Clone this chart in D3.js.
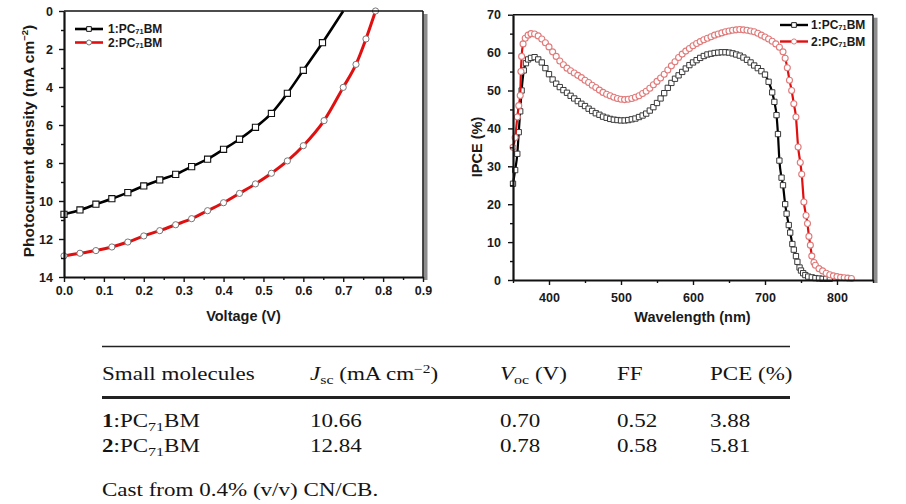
<!DOCTYPE html>
<html><head><meta charset="utf-8">
<script src="https://cdn.jsdelivr.net/npm/d3@7/dist/d3.min.js"></script>
<style>body{margin:0;background:#fff;} svg{display:block;}</style>
</head><body>
<svg id="c" width="906" height="504"></svg>
<script>
// ---------------- DATA ----------------
const seriesNames = ["1:PC71BM", "2:PC71BM"];

// J-V curves (left panel)
const jvV1 = [0,0.04,0.08,0.12,0.16,0.20,0.24,0.28,0.32,0.36,0.40,0.44,0.48,0.52,0.56,0.60,0.648,0.70];
const jvJ1 = [10.70,10.47,10.17,9.88,9.56,9.21,8.89,8.60,8.19,7.80,7.28,6.75,6.12,5.39,4.33,3.12,1.67,0.0];
const jvV2 = [0,0.04,0.08,0.12,0.16,0.20,0.24,0.28,0.32,0.36,0.40,0.44,0.48,0.52,0.56,0.60,0.652,0.70,0.732,0.757,0.781];
const jvJ2 = [12.89,12.75,12.61,12.42,12.16,11.84,11.56,11.25,10.93,10.51,10.09,9.60,9.10,8.54,7.89,7.09,5.77,4.02,2.81,1.47,0.0];

// IPCE spectra (right panel)
const ipceWl1 = [350,353,356,358,360,362,365,368,371,375,380,385,390,395,400,405,410,415,420,425,430,435,440,445,450,455,460,465,470,475,480,485,490,495,500,505,510,515,520,525,530,535,540,545,550,555,560,565,570,575,580,585,590,595,600,605,610,615,620,625,630,635,640,645,650,655,660,665,670,675,680,685,690,695,700,705,710,713,716,718,720,723,725,728,730,733,735,738,740,743,745,748,750,753,756,760,765,770,775,780,785,790];
const ipce1 = [25.4,29,33.3,39,44.5,50,55.3,57.2,58.2,58.6,58.8,58.2,57.4,55.9,54.3,52.9,51.8,50.9,50.1,49.4,48.6,47.9,47.2,46.5,45.9,45.2,44.6,44.0,43.6,43.1,42.8,42.5,42.3,42.2,42.1,42.1,42.2,42.4,42.6,43.0,43.4,43.9,44.7,45.6,46.7,47.9,49.3,50.7,52.0,53.1,54.0,54.9,55.8,56.7,57.4,58.0,58.6,59.1,59.5,59.7,59.9,60.0,60.1,60.1,60.0,59.8,59.5,59.2,58.7,58.1,57.4,56.6,55.9,55.1,54.2,52.3,49.5,47,43.5,38.5,31.5,27,25,20,17.5,14.5,12.5,9.5,8,6.3,4.8,3.3,2.5,1.8,1.3,0.9,0.7,0.5,0.4,0.3,0.3,0.3];
const ipceWl2 = [350,353,356,358,360,361,362,364,367,371,375,380,385,390,395,400,405,410,415,420,425,430,435,440,445,450,455,460,465,470,475,480,485,490,495,500,505,510,515,520,525,530,535,540,545,550,555,560,565,570,575,580,585,590,595,600,605,610,615,620,625,630,635,640,645,650,655,660,665,670,675,680,685,690,695,700,705,710,715,720,725,728,731,734,737,740,743,746,749,751,754,757,759,761,763,765,768,770,775,780,785,790,795,800,805,810,815,820];
const ipce2 = [35,37.6,43,46,48.7,55,59,62.3,63.8,64.6,65.0,64.9,64.4,63.6,62.6,61.5,60.2,59.0,57.8,56.8,55.9,55.2,54.6,54.0,53.4,52.7,52.1,51.4,50.8,50.1,49.5,49.0,48.6,48.2,47.9,47.7,47.6,47.7,47.9,48.2,48.6,49.2,49.8,50.6,51.5,52.4,53.3,54.3,55.4,56.5,57.6,58.7,59.6,60.4,61.1,61.8,62.4,62.9,63.4,63.8,64.2,64.6,64.9,65.2,65.5,65.7,65.9,66.0,66.1,66.0,65.9,65.7,65.5,65.1,64.6,64.1,63.6,63.0,62.3,61.4,60.2,58.5,56,52.7,50,46.5,43,35.1,31,27.9,20.6,17,14.9,11.5,9.2,6.3,4.6,3.9,3.0,2.4,1.8,1.4,1.1,0.9,0.7,0.6,0.5,0.4];

// axis ticks
const jvVTicks = [0,0.1,0.2,0.3,0.4,0.5,0.6,0.7,0.8,0.9];
const jvVMinor = [0.05,0.15,0.25,0.35,0.45,0.55,0.65,0.75,0.85];
const jvJTicks = [0,2,4,6,8,10,12,14];
const jvJMinor = [1,3,5,7,9,11,13];
const wlTicks = [400,500,600,700,800];
const wlMinor = [350,450,550,650,750,850];
const ipceTicks = [0,10,20,30,40,50,60,70];
const ipceMinor = [5,15,25,35,45,55,65];

// table
const tblNames = ["1:PC71BM", "2:PC71BM"];
const tblJsc = [10.66, 12.84];
const tblVoc = [0.70, 0.78];
const tblFF = [0.52, 0.58];
const tblPCE = [3.88, 5.81];
const tblNote = "Cast from 0.4% (v/v) CN/CB.";

// ---------------- DRAW ----------------
const svg = d3.select("#c");
const SANS = "'Liberation Sans', Arial, Helvetica, sans-serif";
const SERIF = "'Liberation Serif', 'Times New Roman', serif";
const RED = "#e01010";

function frame(g, x, y, o) {
  const [x0, x1] = x.range();
  const yr = y.range(); const top = Math.min(...yr), bot = Math.max(...yr);
  g.append("rect").attr("x", x1 + 0.5).attr("y", top + 3).attr("width", 4).attr("height", bot - top)
    .attr("fill", "#8e8e8e");
  g.append("line").attr("x1", x0).attr("x2", x1).attr("y1", top).attr("y2", top)
    .attr("stroke", "#111").attr("stroke-width", 1.5);
  g.append("line").attr("x1", x1).attr("x2", x1).attr("y1", top).attr("y2", bot)
    .attr("stroke", "#111").attr("stroke-width", 1.5);
  const style = s => {
    s.select(".domain").attr("stroke", "#111").attr("stroke-width", 2.2);
    s.selectAll(".tick line").attr("stroke", "#111").attr("stroke-width", 1.4);
    s.selectAll(".tick text").attr("font-family", SANS).attr("font-weight", "bold")
      .attr("font-size", 12.5).attr("fill", "#1a1a1a");
  };
  g.append("g").attr("transform", `translate(0,${bot})`)
    .call(d3.axisBottom(x).tickValues(o.xMinor).tickSize(3).tickFormat(""))
    .call(s => { s.select(".domain").remove(); s.selectAll("line").attr("stroke", "#111").attr("stroke-width", 1.4); });
  g.append("g").attr("transform", `translate(${x0},0)`)
    .call(d3.axisLeft(y).tickValues(o.yMinor).tickSize(3).tickFormat(""))
    .call(s => { s.select(".domain").remove(); s.selectAll("line").attr("stroke", "#111").attr("stroke-width", 1.4); });
  g.append("g").attr("transform", `translate(0,${bot})`)
    .call(d3.axisBottom(x).tickValues(o.xMajor).tickSize(5).tickSizeOuter(0).tickPadding(o.xPad).tickFormat(o.xFmt))
    .call(style);
  g.append("g").attr("transform", `translate(${x0},0)`)
    .call(d3.axisLeft(y).tickValues(o.yMajor).tickSize(5).tickSizeOuter(0).tickPadding(o.yPad).tickFormat(o.yFmt))
    .call(style);
}

function legendLabel(g, x, y, name, fs) {
  const m = name.match(/^(\d:PC)(\d+)(BM)$/);
  const t = g.append("text").attr("x", x).attr("y", y).attr("font-family", SANS)
    .attr("font-weight", "bold").attr("font-size", fs).attr("fill", "#1a1a1a");
  t.append("tspan").text(m[1]);
  t.append("tspan").attr("font-size", fs * 0.62).attr("dy", 1).text(m[2]);
  t.append("tspan").attr("dy", -1).text(m[3]);
}

// ===== Left panel: J-V =====
const xL = d3.scaleLinear().domain([0, 0.9]).range([64, 423]);
const yL = d3.scaleLinear().domain([0, 14]).range([11, 277]);
const gL = svg.append("g");

const jv1 = jvV1.map((v, i) => [v, jvJ1[i]]);
const jv2 = jvV2.map((v, i) => [v, jvJ2[i]]);
const lineL = d3.line().x(d => xL(d[0])).y(d => yL(d[1])).curve(d3.curveMonotoneX);

gL.append("path").datum(jv1).attr("d", lineL).attr("fill", "none").attr("stroke", "#000").attr("stroke-width", 2.6);
gL.append("g").selectAll("path").data(jv1.slice(0, -1)).join("path")
  .attr("d", d3.symbol(d3.symbolSquare, 38)())
  .attr("transform", d => `translate(${xL(d[0])},${yL(d[1])})`)
  .attr("fill", "#fff").attr("stroke", "#111").attr("stroke-width", 1.1);
gL.append("path").datum(jv2).attr("d", lineL).attr("fill", "none").attr("stroke", RED).attr("stroke-width", 3);
gL.append("g").selectAll("circle").data(jv2).join("circle")
  .attr("cx", d => xL(d[0])).attr("cy", d => yL(d[1])).attr("r", 3.1)
  .attr("fill", "#fff").attr("stroke", "#777").attr("stroke-width", 1);

frame(gL, xL, yL, {xMinor: jvVMinor, yMinor: jvJMinor, xMajor: jvVTicks, yMajor: jvJTicks,
  xFmt: d3.format(".1f"), yFmt: d3.format("d"), xPad: 4, yPad: 6});

// axis titles
gL.append("text").attr("x", 243.5).attr("y", 321).attr("text-anchor", "middle")
  .attr("font-family", SANS).attr("font-weight", "bold").attr("font-size", 14.5).attr("fill", "#1a1a1a")
  .text("Voltage (V)");
const ytL = gL.append("text").attr("transform", "translate(34,141) rotate(-90)").attr("text-anchor", "middle")
  .attr("font-family", SANS).attr("font-weight", "bold").attr("font-size", 15.5).attr("fill", "#1a1a1a");
ytL.append("tspan").text("Photocurrent density (mA cm");
ytL.append("tspan").attr("font-size", 9.5).attr("dy", -6).text("−2");
ytL.append("tspan").attr("dy", 6).text(")");

// legend
[0, 1].forEach(i => {
  const ly = 29 + i * 13.5;
  gL.append("line").attr("x1", 75).attr("x2", 103).attr("y1", ly).attr("y2", ly)
    .attr("stroke", i ? RED : "#000").attr("stroke-width", 2.6);
  if (i === 0) gL.append("path").attr("d", d3.symbol(d3.symbolSquare, 22)()).attr("transform", `translate(89,${ly})`)
    .attr("fill", "#fff").attr("stroke", "#111").attr("stroke-width", 1);
  else gL.append("circle").attr("cx", 89).attr("cy", ly).attr("r", 2.5).attr("fill", "#fff").attr("stroke", "#777");
  legendLabel(gL, 108, ly + 4.3, seriesNames[i], 12);
});

// ===== Right panel: IPCE =====
const xR = d3.scaleLinear().domain([350, 850]).range([513, 873]);
const yR = d3.scaleLinear().domain([0, 70]).range([280, 14.7]);
const gR = svg.append("g");
const ip1 = ipceWl1.map((w, i) => [w, ipce1[i]]);
const ip2 = ipceWl2.map((w, i) => [w, ipce2[i]]);
const lineR = d3.line().x(d => xR(d[0])).y(d => yR(d[1])).curve(d3.curveMonotoneX);

gR.append("path").datum(ip1).attr("d", lineR).attr("fill", "none").attr("stroke", "#000").attr("stroke-width", 2.2);
gR.append("g").selectAll("path").data(ip1).join("path")
  .attr("d", d3.symbol(d3.symbolSquare, 28)())
  .attr("transform", d => `translate(${xR(d[0])},${yR(d[1])})`)
  .attr("fill", "#fff").attr("stroke", "#3a3a3a").attr("stroke-width", 1);
gR.append("path").datum(ip2).attr("d", lineR).attr("fill", "none").attr("stroke", RED).attr("stroke-width", 2.2);
gR.append("g").selectAll("circle").data(ip2).join("circle")
  .attr("cx", d => xR(d[0])).attr("cy", d => yR(d[1])).attr("r", 3)
  .attr("fill", "#fff").attr("stroke", "#e07a7a").attr("stroke-width", 1.1);

frame(gR, xR, yR, {xMinor: wlMinor, yMinor: ipceMinor, xMajor: wlTicks, yMajor: ipceTicks,
  xFmt: d3.format("d"), yFmt: d3.format("d"), xPad: 8, yPad: 7});

gR.append("text").attr("x", 692.5).attr("y", 322).attr("text-anchor", "middle")
  .attr("font-family", SANS).attr("font-weight", "bold").attr("font-size", 14.5).attr("fill", "#1a1a1a")
  .text("Wavelength (nm)");
gR.append("text").attr("transform", "translate(482,147) rotate(-90)").attr("text-anchor", "middle")
  .attr("font-family", SANS).attr("font-weight", "bold").attr("font-size", 14.5).attr("fill", "#1a1a1a")
  .text("IPCE (%)");

[0, 1].forEach(i => {
  const ly = 25 + i * 16.5;
  gR.append("line").attr("x1", 780).attr("x2", 808).attr("y1", ly).attr("y2", ly)
    .attr("stroke", i ? RED : "#000").attr("stroke-width", 2.4);
  if (i === 0) gR.append("path").attr("d", d3.symbol(d3.symbolSquare, 22)()).attr("transform", `translate(794,${ly})`)
    .attr("fill", "#fff").attr("stroke", "#222").attr("stroke-width", 1);
  else gR.append("circle").attr("cx", 794).attr("cy", ly).attr("r", 2.6).attr("fill", "#fff").attr("stroke", "#e07a7a");
  legendLabel(gR, 811, ly + 4.3, seriesNames[i], 12);
});

// ===== Table =====
const gT = svg.append("g");
const SX = 1.28, TFS = 18, TCOL = "#141414";
const colX = [102, 310, 500, 617, 710];
function ttext(x, y) {
  return gT.append("text").attr("transform", `translate(${x},${y}) scale(${SX},1)`)
    .attr("font-family", SERIF).attr("font-size", TFS).attr("fill", TCOL);
}
gT.append("line").attr("x1", 102).attr("x2", 790).attr("y1", 346.5).attr("y2", 346.5).attr("stroke", "#222").attr("stroke-width", 1.5);
gT.append("line").attr("x1", 102).attr("x2", 790).attr("y1", 397.5).attr("y2", 397.5).attr("stroke", "#222").attr("stroke-width", 3);

const hy = 380;
ttext(colX[0], hy).text("Small molecules");
let t = ttext(colX[1], hy);
t.append("tspan").attr("font-style", "italic").text("J");
t.append("tspan").attr("font-size", 12.5).attr("dy", 4).text("sc");
t.append("tspan").attr("dy", -4).text(" (mA cm");
t.append("tspan").attr("font-size", 12).attr("dy", -7).text("−2");
t.append("tspan").attr("dy", 7).text(")");
t = ttext(colX[2], hy);
t.append("tspan").attr("font-style", "italic").text("V");
t.append("tspan").attr("font-size", 12.5).attr("dy", 4).text("oc");
t.append("tspan").attr("dy", -4).text(" (V)");
ttext(colX[3], hy).text("FF");
ttext(colX[4], hy).text("PCE (%)");

const rowY = [426.5, 451.5];
tblNames.forEach((name, i) => {
  const m = name.match(/^(\d)(:PC)(\d+)(BM)$/);
  const tt = ttext(colX[0], rowY[i]);
  tt.append("tspan").attr("font-weight", "bold").text(m[1]);
  tt.append("tspan").text(m[2]);
  tt.append("tspan").attr("font-size", 12.5).attr("dy", 4).text(m[3]);
  tt.append("tspan").attr("dy", -4).text(m[4]);
  ttext(colX[1], rowY[i]).text(tblJsc[i].toFixed(2));
  ttext(colX[2], rowY[i]).text(tblVoc[i].toFixed(2));
  ttext(colX[3], rowY[i]).text(tblFF[i].toFixed(2));
  ttext(colX[4], rowY[i]).text(tblPCE[i].toFixed(2));
});
ttext(colX[0], 496).text(tblNote);
</script>
</body></html>
